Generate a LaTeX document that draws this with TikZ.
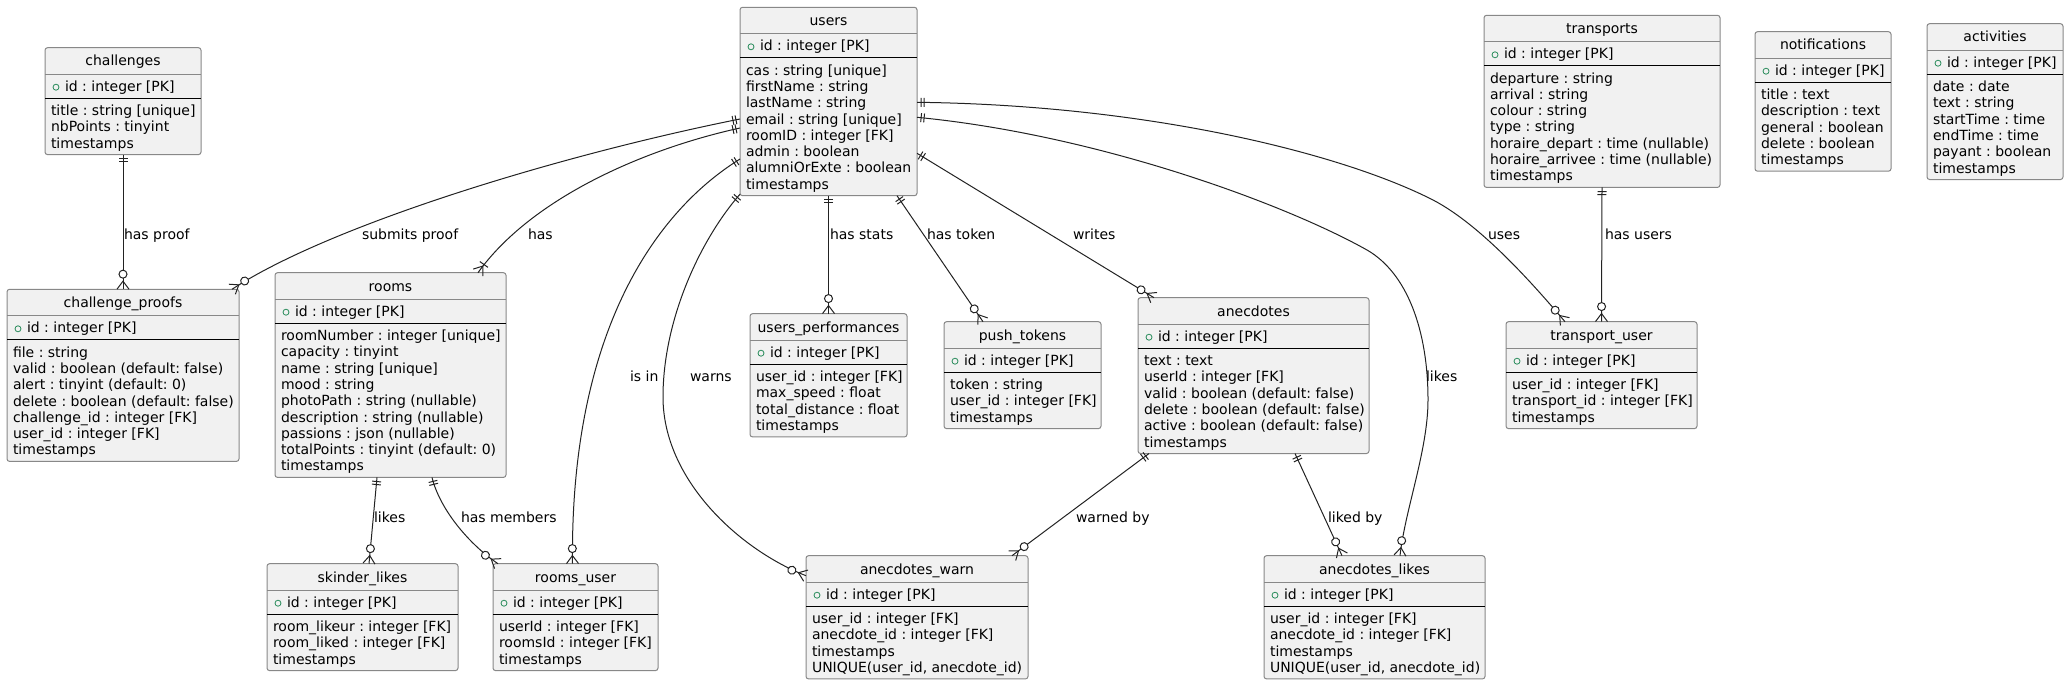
\documentclass[tikz,border=0pt]{standalone}
\usepackage{fontspec}
\setmainfont{DejaVu Sans}
\frenchspacing
\usetikzlibrary{calc,decorations.markings}
\definecolor{boxfill}{HTML}{F1F1F1}
\definecolor{boxline}{HTML}{888888}
\definecolor{pkgreen}{HTML}{2A8C5C}
\definecolor{linecol}{HTML}{222222}

\tikzset{
  ent/.style={draw=boxline, fill=boxfill, line width=0.75pt, rounded corners=1.9pt, inner sep=0pt, outer sep=0pt, anchor=north west},
  titlesep/.style={draw=boxline, line width=0.75pt},
  pksep/.style={draw=black, line width=0.9pt},
  txt/.style={font=\frenchspacing\fontsize{10.5pt}{12.2pt}\selectfont, inner sep=0pt, outer sep=0pt, text=black},
  conn/.style={draw=linecol, line width=0.75pt},
  onestart/.style={postaction={decorate, decoration={markings, mark=at position 0.1pt with {\draw[linecol, line width=0.75pt] (4,-4.5) -- (4,4.5) (7,-4.5) -- (7,4.5);}}}},
  zmanyend/.style={postaction={decorate, decoration={markings, mark=at position -0.1pt with {\draw[linecol, line width=0.75pt] (0,6) -- (-8,0) -- (0,-6); \draw[linecol, line width=0.75pt, fill=white] (-15,0) circle[radius=3pt];}}}},
  onemanyend/.style={postaction={decorate, decoration={markings, mark=at position -0.1pt with {\draw[linecol, line width=0.75pt] (0,6) -- (-8,0) -- (0,-6) (-10,-5) -- (-10,5);}}}},
}

\newcommand\ErEntity[6]{%
  \foreach \ErItem [count=\ErK] in {#6} {\xdef\ErN{\ErK}}%
  \pgfmathsetmacro\ErTs{#4+26.5}%
  \pgfmathsetmacro\ErPs{#4+50.5}%
  \pgfmathsetmacro\ErBot{#4+58+\ErN*16.3}%
  \pgfmathsetmacro\ErW{(#3-#2)*0.75}%
  \pgfmathsetmacro\ErH{(\ErBot-#4)*0.75}%
  \node[ent, minimum width=\ErW pt, minimum height=\ErH pt] (#1) at (#2,#4) {};
  \draw[titlesep] (#2,\ErTs) -- (#3,\ErTs);
  \draw[pksep] (#2,\ErPs) -- (#3,\ErPs);
  \node[txt, anchor=base] (#1-title) at ({(#2+#3)/2},{#4+18.3}) {#5};
  \draw[pkgreen, line width=0.6pt] ({#2+11},{#4+39.5}) circle[radius=2.25pt];
  \node[txt, anchor=base west] (#1-pk) at ({#2+20},{#4+43.6}) {id : integer [PK]};
  \foreach \ErItem [count=\ErK] in {#6} {\node[txt, anchor=base west] (#1-f\ErK) at ({#2+6},{#4+67.8+(\ErK-1)*16.3}) {\ErItem};}
}

\begin{document}
\begin{tikzpicture}[x=0.75pt, y=-0.75pt]
\useasboundingbox (0,0) rectangle (2066,685);

\ErEntity{challenges}{45}{201}{47.7}{challenges}{title : string [unique], nbPoints : tinyint, timestamps}
\ErEntity{cproofs}{7}{239}{289.3}{challenge\_proofs}{file : string, valid : boolean (default: false), alert : tinyint (default: 0), delete : boolean (default: false), challenge\_id : integer [FK], user\_id : integer [FK], timestamps}
\ErEntity{rooms}{275}{506}{272.7}{rooms}{roomNumber : integer [unique], capacity : tinyint, name : string [unique], mood : string, photoPath : string (nullable), description : string (nullable), passions : json (nullable), totalPoints : tinyint (default: 0), timestamps}
\ErEntity{users}{740}{917}{7.3}{users}{cas : string [unique], firstName : string, lastName : string, email : string [unique], roomID : integer [FK], admin : boolean, alumniOrExte : boolean, timestamps}
\ErEntity{uperf}{750}{907}{313.7}{users\_performances}{user\_id : integer [FK], max\_speed : float, total\_distance : float, timestamps}
\ErEntity{ptokens}{944}{1101}{321.7}{push\_tokens}{token : string, user\_id : integer [FK], timestamps}
\ErEntity{anecdotes}{1138}{1369}{297.7}{anecdotes}{text : text, userId : integer [FK], valid : boolean (default: false), delete : boolean (default: false), active : boolean (default: false), timestamps}
\ErEntity{awarn}{806}{1028}{555.7}{anecdotes\_warn}{user\_id : integer [FK], anecdote\_id : integer [FK], timestamps, {UNIQUE(user\_id, anecdote\_id)}}
\ErEntity{alikes}{1264}{1485}{555.7}{anecdotes\_likes}{user\_id : integer [FK], anecdote\_id : integer [FK], timestamps, {UNIQUE(user\_id, anecdote\_id)}}
\ErEntity{tuser}{1506}{1697}{321.7}{transport\_user}{user\_id : integer [FK], transport\_id : integer [FK], timestamps}
\ErEntity{transports}{1484}{1720}{15.3}{transports}{departure : string, arrival : string, colour : string, type : string, horaire\_depart : time (nullable), horaire\_arrivee : time (nullable), timestamps}
\ErEntity{notifications}{1755}{1891}{31.7}{notifications}{title : text, description : text, general : boolean, delete : boolean, timestamps}
\ErEntity{activities}{1927}{2063}{23.7}{activities}{date : date, text : string, startTime : time, endTime : time, payant : boolean, timestamps}
\ErEntity{skinder}{267}{458}{563.7}{skinder\_likes}{room\_likeur : integer [FK], room\_liked : integer [FK], timestamps}
\ErEntity{roomsuser}{493}{658}{563.7}{rooms\_user}{userId : integer [FK], roomsId : integer [FK], timestamps}

% connectors
\draw[conn, onestart, zmanyend] (challenges.south) -- (cproofs.north);
\draw[conn, onestart, zmanyend] ($(users.north west)+(0,111.7)$) .. controls (560,155) and (330,225) .. ($(cproofs.north east)+(-7,0)$);
\draw[conn, onestart, onemanyend] ($(users.north west)+(0,120.7)$) .. controls (640,150) and (530,200) .. ($(rooms.north west)+(203,0)$);
\draw[conn, onestart, zmanyend] ($(users.north west)+(0,151.7)$) .. controls (650,215) and (570,340) .. ($(roomsuser.north)+(-3,0)$);
\draw[conn, onestart, zmanyend] ($(users.south west)+(0,-1.5)$) .. controls (700,240) and (663,320) .. (663,397) .. controls (663,480) and (740,550) .. ($(awarn.north west)+(0,20)$);
\draw[conn, onestart, zmanyend] (users.south) -- (uperf.north);
\draw[conn, onestart, zmanyend] ($(users.south east)+(-20,0)$) -- ($(ptokens.north west)+(39,0)$);
\draw[conn, onestart, zmanyend] ($(users.north east)+(0,146)$) -- ($(anecdotes.north west)+(16,0)$);
\draw[conn, onestart, zmanyend] ($(users.north east)+(0,110)$) .. controls (1100,135) and (1287,205) .. (1367,250) .. controls (1407,273) and (1428,330) .. (1428,400) .. controls (1428,450) and (1405,510) .. ($(alikes.north west)+(136,0)$);
\draw[conn, onestart, zmanyend] ($(users.north east)+(0,95)$) .. controls (1150,105) and (1343,154) .. (1433,200) .. controls (1483,226) and (1538,290) .. ($(tuser.north west)+(59,0)$);
\draw[conn, onestart, zmanyend] (transports.south) -- (tuser.north);
\draw[conn, onestart, zmanyend] ($(rooms.south west)+(102,0)$) -- ($(skinder.north west)+(102,0)$);
\draw[conn, onestart, zmanyend] ($(rooms.south west)+(157,0)$) .. controls (440,510) and (470,545) .. ($(roomsuser.north west)+(5,0)$);
\draw[conn, onestart, zmanyend] ($(anecdotes.south west)+(11,0)$) -- ($(awarn.north east)+(-16,0)$);
\draw[conn, onestart, zmanyend] ($(anecdotes.south west)+(157,0)$) -- ($(alikes.north west)+(78,0)$);

% labels
\node[txt, anchor=base west] (l1) at (124,239) {has proof};
\node[txt, anchor=base west] (l2) at (362,239) {submits proof};
\node[txt, anchor=base west] (l3) at (528,239) {has};
\node[txt, anchor=base west] (l4) at (630,381) {is in};
\node[txt, anchor=base west] (l5) at (690,381) {warns};
\node[txt, anchor=base west] (l6) at (830,239) {has stats};
\node[txt, anchor=base west] (l7) at (927,239) {has token};
\node[txt, anchor=base west] (l8) at (1073,239) {writes};
\node[txt, anchor=base west] (l9) at (1426,381) {likes};
\node[txt, anchor=base west] (l10) at (1488,239) {uses};
\node[txt, anchor=base west] (l11) at (1605,239) {has users};
\node[txt, anchor=base west] (l12) at (374,522) {likes};
\node[txt, anchor=base west] (l13) at (461,522) {has members};
\node[txt, anchor=base west] (l14) at (1076,522) {warned by};
\node[txt, anchor=base west] (l15) at (1328,522) {liked by};
\end{tikzpicture}
\end{document}
